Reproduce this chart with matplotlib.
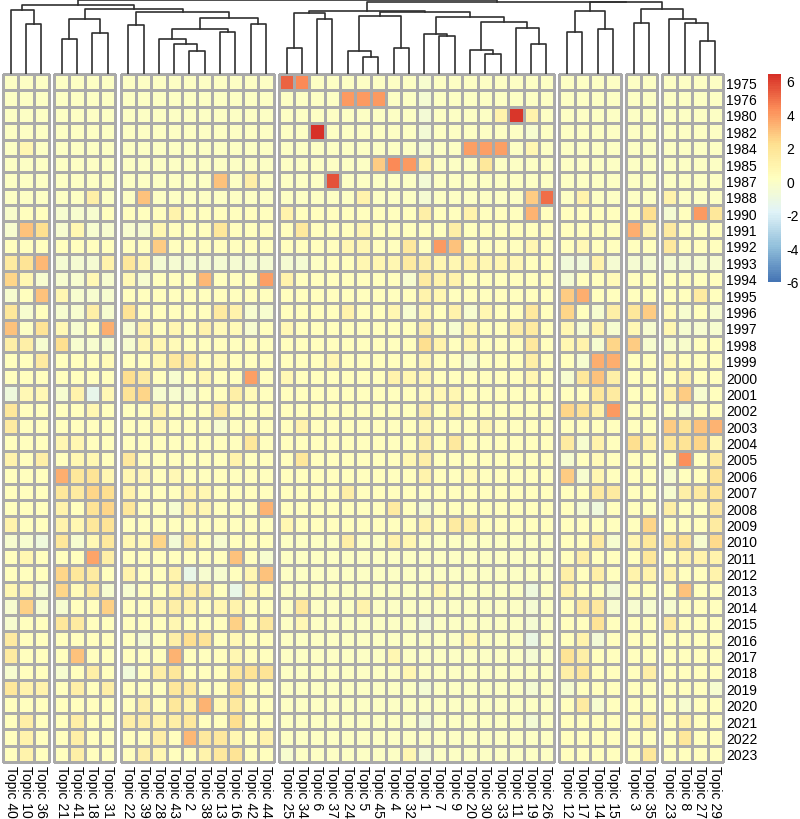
import numpy as np
import matplotlib
matplotlib.use('Agg')
import matplotlib.pyplot as plt
from matplotlib.colors import LinearSegmentedColormap, Normalize

plt.rcParams['font.family'] = ['Liberation Sans', 'DejaVu Sans']
plt.rcParams['axes.unicode_minus'] = False

# rows (years) and columns (topics) in the clustered order
years = ['1975', '1976', '1980', '1982', '1984', '1985', '1987', '1988', '1990',
         '1991', '1992', '1993', '1994', '1995', '1996', '1997', '1998', '1999',
         '2000', '2001', '2002', '2003', '2004', '2005', '2006', '2007', '2008',
         '2009', '2010', '2011', '2012', '2013', '2014', '2015', '2016', '2017',
         '2018', '2019', '2020', '2021', '2022', '2023']

topics = ['Topic 40', 'Topic 10', 'Topic 36',
          'Topic 21', 'Topic 41', 'Topic 18', 'Topic 31',
          'Topic 22', 'Topic 39', 'Topic 28', 'Topic 43', 'Topic 2', 'Topic 38',
          'Topic 13', 'Topic 16', 'Topic 42', 'Topic 44',
          'Topic 25', 'Topic 34', 'Topic 6', 'Topic 37', 'Topic 24', 'Topic 5',
          'Topic 45', 'Topic 4', 'Topic 32', 'Topic 1', 'Topic 7', 'Topic 9',
          'Topic 20', 'Topic 30', 'Topic 33', 'Topic 11', 'Topic 19', 'Topic 26',
          'Topic 12', 'Topic 17', 'Topic 14', 'Topic 15',
          'Topic 3', 'Topic 35',
          'Topic 23', 'Topic 8', 'Topic 27', 'Topic 29']

# column clusters (cut into 7 groups)
group_sizes = [3, 4, 10, 18, 4, 2, 4]

# scaled values, one row per year: groups 1-3 | group 4 | groups 5-7
z = [
    [0, 0, 0, 0, 0, 0, 0, 0, 0, 0, 0, 0, 0, 0, 0, 0, 0,
     5.2, 4.3, 0, 0, 0, 0, 0, 0, 0, -0.4, 0, 0, 0, 0, 0, 0, 0, 0,
     0, 0, 0, 0, 0, 0, 0, 0, 0, 0],
    [0, 0, 0, 0, 0, 0, 0, 0, 0, 0, 0, 0, 0, 0, 0, 0, 0,
     0, 0, 0, 0, 4.0, 4.0, 4.0, 0, 0, -0.5, 0, 0, 0, 0, 0, 0, 0, 0,
     0, 0, 0, 0, 0, 0, 0, 0, 0, 0],
    [0, 0, 0, 0, 0, 0, 0, 0, 0, 0, 0, 0, 0, 0, 0, 0, 0,
     0, 0, 0, 0, 0, 0, 0, 0, 0, -0.6, 0, 0, 0, 0, 1.0, 6.2, 1.0, 0,
     0, 0, 0, 0, 0, 0, 0, 0, 0, 0],
    [0, 0, 0, 0, 0, 0, 0, 0, 0, 0, 0, 0, 0, 0, 0, 0, 0,
     0, 0, 6.4, 0, 0, 0, 0, 0, 0, -0.6, 0, 0, 0, 0, 0, 0, -0.4, 0,
     0, 0, 0, 0, 0, 0, 0, 0, 0, 0],
    [0, 0.8, 0, 0, 0, 0, 0, 0, 0, 0, 0, 0, 0, 0, 0, 0, 0,
     0, 0, 0, 0, 0, 0, 0, 0, 0, -0.4, 0, 0, 3.8, 3.8, 3.8, 0, 0.8, 0,
     0, 0, 0, 0, 0, 0, 0, 0, 0, 0],
    [0, 0, 0, 0, 0, 0, 0, 0, 0, 0, 0, 0, 0, 0, 0, 0, 0,
     0, 0, 0, 0, 0, 0, 2.8, 4.3, 4.0, 1.0, 0, 0, 0, 1.8, 0, 0, 0, 0,
     0, 0, 0, 0, 0, 0, 0, 0, 0, 0],
    [0, 0, 0, 0, 0, 0, 0, 0, 0, 0, 0, 0, 0, 3.0, 0, 1.2, 0,
     0, 0, 0, 5.6, 0, 0, 0, 0, 0, -0.6, 0, 0, 0, 0, 0, 0, 0, 0,
     0, 0, 0, 0, 0, 0, 0, 0, 0, 0],
    [0, 0, 0, 0, 0, 1.3, 0, 0, 3.0, 0, 0, 0, 0, 0, 0, 0, 0,
     0, 0, 0, 0, 0, 1.0, 0, 0, 0, -0.5, 0, 0, 0, 0, 0, 0, 2.8, 5.0,
     0, 1.0, 0, 0, 0, 0, 1.0, 0, 0, 0],
    [-0.2, 0.2, 0.2, -0.3, -0.3, -0.3, 0.2, 0.2, 0.2, 0.2, 1.0, 0.2, 0.2, 0.2, 0.2, 0.2, 0.2,
     1.0, 0.2, 0.2, 0.2, 0.2, 0.2, 0.2, 0.2, 0.2, 1.2, 0.2, 0.2, 1.0, 0.2, 0.2, 0.2, 3.3, 0.2,
     0.2, 0.2, 0.2, 0.2, 0.2, 2.2, -0.5, 0.2, 4.0, 1.8],
    [-0.4, 3.0, 2.2, -0.3, 0.8, -0.3, -0.3, -0.3, -0.3, 0.8, 0.2, 0.2, 0.2, 1.8, 0.2, 0.2, 0.2,
     0.2, 1.6, 0.2, 0.2, 0.2, 0.8, 0.2, 0.2, 0.2, 0.2, 0.2, 1.2, 0.2, 0.2, 0.2, 0.2, 0.2, 0.2,
     0.2, 0.2, 0.2, 0.2, 3.5, 0.9, 1.5, 0.2, 0.2, 0.2],
    [0.2, 0.2, 0.2, 0.2, 0.2, 0.2, 0.2, 0.2, 0.2, 2.8, 0.2, 0.2, 0.2, 0.2, 0.2, 0.2, 0.2,
     0.2, 0.2, 0.2, 0.2, 0.8, 0.8, 0.2, 0.2, 1.6, 0.2, 4.0, 3.0, 0.2, 0.2, 0.2, 0.2, 0.8, 0.2,
     0.2, 0.6, 0.2, 0.2, 0.2, 0.2, 1.6, 0.2, 0.2, 0.2],
    [1.5, 2.0, 3.2, -0.5, -0.5, -0.5, 1.0, 1.8, 0.8, -0.5, -0.5, -0.5, -0.5, -0.5, -0.5, -0.5, -0.5,
     -0.5, -0.5, 0.0, 0.3, 0.3, 0.8, 0.8, 0.8, 1.5, 1.3, 0.8, 0.8, 1.0, 0.8, 0.8, 0.6, 0.3, 0.3,
     -0.7, -0.7, 1.0, -0.5, -0.5, -0.5, -0.5, -0.5, -0.3, -0.3],
    [2.5, 0.8, -0.3, -0.4, -0.4, 0.6, -0.4, 0.6, -0.3, 0.2, 0.2, 0.2, 3.2, 0.2, 0.2, 0.2, 3.8,
     1.0, 0.2, 0.2, 0.2, 0.2, 0.2, 0.2, 0.2, -0.3, 1.5, 1.0, 1.0, 0.2, 0.2, 0.2, 0.2, 0.2, 0.2,
     -0.5, 0.2, 0.2, 0.5, 0.2, 0.2, 0.2, 0.2, 0.2, 0.2],
    [-0.4, 0.2, 3.0, 0.8, -0.4, -0.4, -0.4, 0.2, 0.2, 0.2, 0.2, 0.2, 0.2, 0.2, 0.2, 0.2, 0.2,
     0.2, 0.2, 0.2, 0.2, 0.2, 0.2, 0.2, 0.2, 0.2, 1.0, 0.8, 0.2, 0.2, 0.2, 0.2, 0.2, 0.2, 0.2,
     2.8, 3.5, 0.2, 0.2, 0.2, 0.2, 0.2, 0.2, 1.5, 0.2],
    [1.8, -0.4, 0.2, -0.3, -0.4, 1.2, -0.4, 2.0, 0.3, 0.2, 0.2, 0.2, 0.2, 1.5, 1.0, -0.4, -0.4,
     0.3, 0.2, 0.2, 0.2, 1.0, 0.2, 0.2, 0.8, -0.4, 0.8, 0.2, 1.0, -0.4, 0.8, 0.2, 0.2, 1.6, 0.2,
     2.5, 0.3, -0.4, 1.2, 1.8, 2.8, 0.5, -0.4, 0.3, -0.4],
    [3.0, 0.0, 2.0, 0.6, -0.4, 0.3, 3.5, -0.4, 1.0, 0.3, 0.8, 0.3, 1.0, 0.5, 0.5, -0.4, 0.3,
     0.6, 0.2, 0.2, 0.2, 0.2, 0.2, 0.2, 0.2, 0.2, 1.3, 0.2, -0.4, 0.8, 0.2, 0.2, 1.3, 1.5, 0.2,
     0.8, -0.4, 1.0, -0.4, 0.6, -0.4, 0.8, -0.4, -0.4, -0.4],
    [1.2, 1.2, -0.4, 2.3, -0.4, -0.4, -0.4, -0.4, 0.8, 0.8, 0.5, 0.2, 0.2, 0.2, 0.2, 0.2, 0.2,
     0.3, 0.2, 0.2, 0.2, 0.2, 0.2, 0.2, 0.2, 0.2, 2.2, 1.0, 0.2, 0.8, 0.2, 0.2, 0.2, 1.6, 0.2,
     0.8, 1.0, -0.4, 2.5, 2.8, -0.4, -0.2, -0.2, 0.2, 0.2],
    [0.2, 0.2, 1.5, 0.2, 0.2, 0.2, 0.5, 0.2, 0.2, 0.8, 1.6, 1.5, 0.2, 0.5, 0.2, 0.2, 0.2,
     0.2, 0.2, 0.2, 0.8, 0.2, 0.2, 0.2, 0.2, 0.2, 0.8, 0.2, 0.2, -0.4, 0.2, 0.2, 0.2, 1.2, 0.2,
     0.2, -0.4, 3.5, 3.5, 0.2, 0.2, 0.6, 0.2, 0.2, 0.2],
    [0.2, 0.2, 0.2, 0.2, 0.2, 0.2, 0.2, 2.2, 1.5, 0.2, -0.4, 0.2, 0.8, 0.2, 0.2, 3.8, 0.2,
     0.6, 0.2, 0.2, 0.2, 0.2, 0.2, 0.2, 1.0, 0.8, 0.8, 0.2, 0.2, 0.2, 0.2, 0.2, 0.2, 0.8, 0.2,
     -0.4, 1.8, 3.0, 1.3, 0.2, 0.2, 0.2, 1.0, 0.2, 0.2],
    [-0.8, 0.6, 0.6, -0.4, 1.0, -1.3, 0.6, 2.0, 2.5, -0.4, -0.4, -0.4, 0.2, 0.2, 1.2, 0.5, 0.2,
     0.2, 0.2, 0.2, 0.2, 0.2, 0.2, 0.2, 0.2, 0.2, 0.5, 0.6, 0.8, 0.2, 0.2, 0.2, 0.2, 0.3, 0.2,
     0.2, 0.2, 1.8, 1.5, 0.2, 0.2, 1.0, 2.8, -0.4, 0.3],
    [1.8, 0.2, 0.2, 0.2, 0.2, 0.8, 0.2, 0.2, 0.2, 1.0, 0.2, 0.2, 0.2, 1.5, 0.2, 0.2, 0.2,
     0.2, 0.2, 0.2, 0.2, 0.2, 0.2, 0.2, 0.2, 0.2, 1.3, 0.2, 1.0, 0.2, 0.2, 0.2, 0.2, 0.2, 0.2,
     2.5, 2.0, 1.0, 4.0, 0.2, 0.2, 0.2, -0.4, 0.2, 0.2],
    [1.5, 0.2, 0.2, 0.2, 0.2, 0.2, 0.2, 0.2, 0.2, 0.6, 0.2, 0.2, 0.2, -0.4, 0.2, 0.2, 0.2,
     0.2, 1.0, 0.2, 0.2, 0.2, 0.2, 0.2, 0.2, 0.2, 0.8, 0.2, 0.2, 0.2, 0.8, 0.2, 0.2, 0.2, 0.2,
     0.2, 0.2, 0.2, 0.2, 0.2, 0.2, 2.8, 2.0, 3.0, 3.3],
    [0.2, 0.2, 0.2, 0.8, 0.8, 0.2, 0.2, 0.2, 0.2, 0.2, 0.2, 0.2, 0.2, 0.2, 0.2, 1.8, 0.2,
     0.2, 0.2, 0.2, 0.2, 0.2, 0.2, 0.2, 0.2, 0.2, 1.2, 0.2, 1.6, 0.2, 0.2, 0.2, 0.2, 0.2, 0.2,
     1.5, -0.4, 1.0, 0.2, 2.3, 1.0, 1.8, 2.0, 2.5, 0.8],
    [1.0, 0.2, 1.3, 0.2, 0.8, 0.8, 0.2, 1.6, 0.2, 0.2, 0.2, 0.2, 0.2, 0.2, 1.0, 0.2, 0.2,
     0.2, 1.8, 0.2, 0.2, 0.2, 0.2, 0.2, 0.2, 0.8, 1.3, 0.2, 0.2, 0.2, 0.2, 0.2, 0.2, 0.2, 0.2,
     -0.4, 0.2, 0.5, 0.2, 0.2, 0.2, 0.2, 4.2, 0.2, 1.5],
    [0.2, 0.2, 0.2, 3.5, 1.8, 2.0, 0.8, 0.8, 0.6, 0.2, 0.6, 0.2, 0.2, 0.2, 0.2, 0.2, 0.2,
     0.2, 0.2, 0.2, 0.2, 0.2, 0.2, 0.2, 0.2, 0.2, 1.0, 0.2, 0.2, 0.5, 0.2, 0.2, 0.2, 0.2, 0.2,
     2.8, -0.4, 0.8, 0.2, 0.2, 0.2, -0.4, 0.2, 0.2, 2.0],
    [0.2, 0.2, 0.2, 1.8, 1.5, 2.5, 2.2, 1.0, 0.2, 0.3, 0.2, 1.0, 0.8, 0.2, 0.2, 0.2, 0.2,
     0.2, 0.2, 0.2, 0.2, 1.3, 0.2, 0.2, 0.2, 0.2, 0.2, 0.2, 0.2, 0.2, 0.2, 0.2, 0.2, 0.2, 0.2,
     0.2, 0.2, 1.5, 1.5, 0.2, 0.2, -0.4, 1.3, 1.5, 2.0],
    [0.2, 0.2, 0.2, 1.0, 0.2, 2.0, 2.5, 1.8, 0.2, 0.2, -0.4, 1.0, 0.8, 0.2, 0.2, 0.2, 3.3,
     0.2, 0.2, 0.2, 0.2, 0.2, 0.2, 0.2, 1.5, 0.2, -0.2, 0.2, 0.2, 0.2, 0.2, 0.2, 0.2, 0.2, 0.2,
     0.2, -0.4, -0.8, 0.2, 0.2, 0.2, 1.3, 0.2, 0.2, 1.6],
    [1.0, 0.2, 0.2, 1.0, 0.8, 1.8, 2.0, 0.2, 0.2, 0.2, 0.2, 0.2, 0.2, 0.2, 0.2, 0.2, 0.2,
     0.8, 0.2, 0.2, 0.2, 0.2, 0.2, 0.2, 0.2, 0.2, 1.0, 0.2, 1.5, 1.3, 0.2, 0.2, 0.2, 0.2, 0.2,
     0.2, 0.2, 0.2, 0.2, 0.2, 2.5, 0.2, 0.2, 0.2, 1.5],
    [-0.4, -0.4, -0.8, 1.8, -0.4, 0.6, 1.6, 0.8, 0.5, 2.5, -0.6, 1.5, 0.3, -0.4, 0.3, 0.3, 0.3,
     0, 0, 0, 0, 1.3, 0, 0, 1.0, 0.8, 0, 0, 0, 0, 0, 0, 0, 0, 0,
     0.3, 0.3, 1.5, -0.4, 0.8, 1.8, 1.6, 2.0, -0.3, 2.4],
    [0.3, 0.8, 0.3, 0.3, 0.3, 3.7, 1.3, 0.3, 0.3, 0.3, 0.3, 0.3, 0.3, 0.3, 3.0, 0.3, -0.4,
     0, 0, 0, 0, 0, 0, 0, 0, 0, 0, 0, 0, 0, 0, 0, 0, 0, 0,
     0.3, 1.3, 0.3, 0.3, 0.3, 1.8, 0.3, 1.0, 1.0, 1.0],
    [0.3, 0.3, 0.3, 2.5, 1.8, 1.5, 0.3, 1.0, 0.3, 0.3, 1.0, -1.2, -0.4, -0.4, 0.3, 0.8, 3.0,
     0, 0, 0, 0, 0, 0, 0, 0, 0, 0, 0, 0, 0, 0, 0, 0, 0, 0,
     1.2, 0.3, 1.3, 0.3, 1.0, 1.0, 1.0, 0.3, 0.3, 1.0],
    [0.8, 0.8, -0.4, 2.5, 0.5, 1.6, -0.4, -0.4, 0.3, 0.3, 1.0, 1.3, 1.3, 0.3, -1.2, 0.6, 0.3,
     0, 0, 0, 0, 0, 0, 0, 0, 0, 0, 0.8, 0, 0, 0, 0, 0, -0.9, 0,
     1.0, 0.3, 0.3, -0.6, 0.3, 0.3, 0.3, 3.0, 0.3, 0.3],
    [-0.4, 2.6, -0.4, -0.4, 0.3, 0.3, 2.6, 0.3, 0.3, 0.8, 1.2, 1.0, 0.3, 0.8, 1.0, 0.3, 0.3,
     0, 1.6, 0, 0, 0, 1.0, 0, 0, 0, 0, 0, 0, 0, 0, 0, 0, -0.5, 0,
     0.3, 1.6, 1.6, -0.4, -0.4, -0.4, -0.3, 0.3, 0.3, 0.3],
    [-0.4, 0.3, 0.3, 1.8, 1.5, 0.3, 0.3, 0.3, 0.3, 0.3, 0.8, 0.3, 0.3, 0.3, 2.6, 0.3, 1.6,
     0, 0.6, 0, 0, 0, 0, 0, 0, 0, -0.6, 0, 0, 0, 0, 0, 0, -0.5, 0,
     0.3, 0.3, 2.0, 0.3, 0.3, 0.3, 1.5, 0.3, 0.3, 0.3],
    [1.5, 0.3, 0.3, 0.3, 0.3, 0.3, 0.3, 0.3, -0.4, 0.3, 1.3, 2.3, 2.0, 0.3, 0.6, 0.3, 0.3,
     0, 0, 0, 0, 0, 0, 0, 0, 0, 0, 0, 0, 0.8, 0, 0, 0, -1.1, 0,
     0.3, 1.0, -0.6, 0.3, 0.3, 0.3, 0.3, 0.3, 0.3, 0.3],
    [1.5, 0.3, 0.3, 0.3, 3.0, 0.3, 0.3, 0.3, 0.3, 0.3, 3.3, 0.3, 0.3, 0.3, 0.8, 0.3, 0.3,
     0, 0, 0, 0, 0, 0, 0, 0.8, 0, 0, 0, 0, 0, 0, 0, 0, -0.5, 0,
     2.0, 1.3, 0.3, 0.3, 0.3, 0.3, 0.3, 0.3, 0.3, 0.3],
    [-0.4, 0.3, 0.3, -0.4, 0.3, 1.3, 0.3, -0.7, 0.3, 1.3, 1.8, 0.3, 0.3, 0.3, 1.8, 2.0, 2.0,
     0, 0, 0, 0, 0, 0, 0, 0, 0.8, 0, 0, 0, 0, 0, 0, 0, 0, 0,
     1.3, 1.8, 0.3, 0.3, 0.3, 1.2, 0.3, 0.3, 0.3, 0.3],
    [1.8, 1.0, 1.0, 0.3, 1.3, 0.3, 1.3, 0.3, 0.3, 0.3, 1.8, 1.5, 0.3, 0.3, 2.3, 0.3, 0.3,
     0, 0, 0, 0, 0, 0, 0, 0, 0, -0.5, 0, 0, 0, 0, 0, 0, -0.5, 0,
     -0.4, 0.3, 0.3, 0.3, 0.3, 0.3, 0.3, 0.3, 0.3, -0.4],
    [0.3, 0.3, 0.3, 0.3, 0.3, 0.3, 0.3, 0.3, 1.3, 0.3, 1.8, 1.0, 3.4, 0.6, 1.6, 0.3, 0.3,
     0, 0, 0, 0, 0, 0, 0, 0, 0, 0, 0, 0, 0, 0, 0, 0, 0, 0,
     0.3, 1.5, -0.4, 0.3, 0.3, 0.3, 0.3, -0.4, 0.3, 0.3],
    [0.3, 1.3, 0.3, 0.3, 1.3, 0.3, 0.3, 1.3, 1.3, 1.0, 1.3, 1.6, 0.3, 0.3, 2.2, 0.3, 0.3,
     0, 0, 0, 0, 0, 0, 0, 0, 0, -0.6, 0, 0, 0, 0, 0, 0, -0.6, 0,
     0.3, 0.3, 0.3, 0.3, 0.3, 1.0, 0.3, 1.0, 0.3, 0.3],
    [0.3, 1.0, 0.3, 0.3, 1.3, 0.3, 0.3, 0.3, 0.3, 1.3, 0.3, 3.2, 1.6, 1.6, 0.8, 0.3, 1.0,
     0, 0, 0, 0, 0, 0, 0, 0, 0, 0, 0, 0, 0, 0, 0, 0, 0, 0,
     0.3, 0.3, 0.3, 0.3, 0.3, 0.3, 0.3, 1.8, 0.3, 0.3],
    [0.3, 1.0, 0.3, 0.3, 1.3, 0.3, 0.3, 0.3, 1.3, 0.8, 0.3, 0.3, 1.0, 1.6, 2.0, 0.3, 0.3,
     -0.4, 0, 0, 0, 0, 0, 0, 0, 0.8, -0.5, 0, 0, 0, 0, 0, 0, 0, 0,
     0.3, 0.3, 0.3, 0.3, 0.3, 1.8, 0.3, 0.3, 0.3, 0.3],
]

# column dendrogram: [left, right, height]; ids >= 45 are earlier merges
merges = [
    [1, 2, 50.0], [0, 45, 64.0],                                    # 45-46 group 1
    [3, 4, 35.0], [5, 6, 41.7], [47, 48, 55.7],                     # 47-49 group 2
    [7, 8, 49.0], [11, 12, 23.3], [10, 51, 30.0], [9, 52, 35.7],    # 50-53
    [13, 14, 42.3], [53, 54, 45.0], [15, 16, 50.0], [55, 56, 56.7], # 54-57
    [50, 57, 62.3], [49, 58, 65.7], [46, 59, 69.0],                 # 58-60
    [17, 18, 26.0], [19, 20, 55.5], [61, 62, 61.0],                 # 61-63 group 4
    [22, 23, 16.7], [21, 64, 23.3], [24, 25, 25.7], [65, 66, 58.3], # 64-67
    [27, 28, 38.3], [26, 68, 40.7], [30, 31, 20.0], [29, 70, 24.3], # 68-71
    [33, 34, 30.7], [32, 72, 46.7], [71, 73, 52.0], [69, 74, 57.7], # 72-75
    [67, 75, 62.3], [63, 76, 63.3],                                 # 76-77
    [35, 36, 42.3], [37, 38, 45.7], [78, 79, 63.3],                 # 78-80 group 5
    [39, 40, 51.0],                                                 # 81 group 6
    [43, 44, 33.3], [42, 82, 51.0], [41, 83, 55.0],                 # 82-84 group 7
    [81, 84, 65.0], [80, 85, 72.2], [77, 86, 72.4], [60, 87, 74.5], # 85-88
]

vals = np.array(z, dtype=float)
nrow, ncol = vals.shape

gap = 0.35
group_id = np.repeat(np.arange(len(group_sizes)), group_sizes)
x_left = np.arange(ncol) + gap * group_id
x_mid = x_left + 0.5
x_max = ncol + gap * (len(group_sizes) - 1)

# pheatmap default palette: rev(brewer.pal(7, "RdYlBu")), 100 steps
palette = ['#4575B4', '#91BFDB', '#E0F3F8', '#FFFFBF', '#FEE090', '#FC8D59', '#D73027']
cmap = LinearSegmentedColormap.from_list('rdylbu', palette, N=100)
norm = Normalize(vmin=-6.0, vmax=6.4)

W, H = 800, 820
fig = plt.figure(figsize=(W / 100, H / 100), dpi=100)


def px(x0, y0, w, h):
    return [x0 / W, 1 - (y0 + h) / H, w / W, h / H]


# heatmap
ax = fig.add_axes(px(3, 75, 720, 688))
start = 0
for n in group_sizes:
    xe = np.append(x_left[start:start + n], x_left[start + n - 1] + 1)
    mesh = ax.pcolormesh(xe, np.arange(nrow + 1), vals[:, start:start + n],
                         cmap=cmap, norm=norm, edgecolors='#aaaaaa', linewidth=0.75)
    mesh.set_clip_on(False)
    start += n
ax.set_xlim(0, x_max)
ax.set_ylim(nrow, 0)
ax.set_xticks(x_mid)
ax.set_xticklabels(topics, rotation=-90, fontsize=10)
ax.set_yticks(np.arange(nrow) + 0.5)
ax.set_yticklabels(years, fontsize=10)
ax.yaxis.tick_right()
ax.tick_params(length=0, pad=2)
for s in ax.spines.values():
    s.set_visible(False)

# dendrogram on top
dax = fig.add_axes(px(3, 0, 720, 75))
pos = {i: (x_mid[i], 0.0) for i in range(ncol)}
for k, (a, b, h) in enumerate(merges):
    xa, ha = pos[a]
    xb, hb = pos[b]
    dax.plot([xa, xa, xb, xb], [ha, h, h, hb], color='#303030', lw=1.2)
    pos[ncol + k] = ((xa + xb) / 2, h)
dax.set_xlim(0, x_max)
dax.set_ylim(0, 75.5)
dax.axis('off')

# legend
cax = fig.add_axes(px(768, 75, 13, 208))
cb = fig.colorbar(mesh, cax=cax, ticks=[-6, -4, -2, 0, 2, 4, 6])
cb.outline.set_visible(False)
cb.ax.tick_params(length=0, pad=4, labelsize=10)

fig.savefig('out.png', dpi=100)
